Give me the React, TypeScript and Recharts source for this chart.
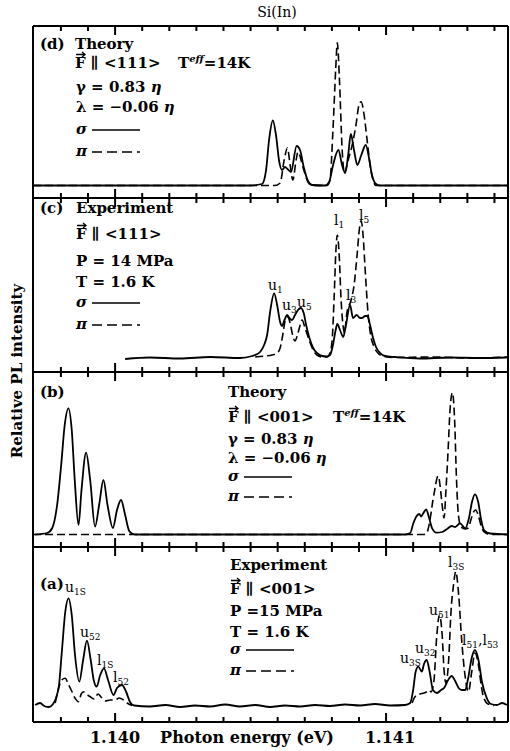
import React from 'react';
import { LineChart, Line, XAxis, YAxis } from 'recharts';

// photon energy axis (eV)
const E_MIN = 1.139697;
const E_MAX = 1.14145;
const TICKS = [
  1.1398, 1.1399, 1.14, 1.1401, 1.1402, 1.1403, 1.1404, 1.1405, 1.1406,
  1.1407, 1.1408, 1.1409, 1.141, 1.1411, 1.1412, 1.1413, 1.1414,
];
const MAJOR_TICKS = [1.14, 1.141];

// (d) theory, F || <111>
const dSigmaE = [1.139697, 1.140498, 1.140542, 1.140557, 1.140568, 1.140582, 1.140594, 1.140605, 1.140616, 1.140627, 1.140638, 1.140649, 1.14067, 1.140683, 1.140697, 1.140712, 1.140727, 1.140775, 1.14079, 1.140804, 1.140824, 1.140838, 1.140849, 1.14086, 1.14087, 1.140882, 1.140894, 1.140908, 1.140925, 1.140937, 1.140948, 1.140963, 1.140978, 1.14145];
const dSigmaI = [0, 0, 1.5, 15, 45, 65, 50, 25, 15.5, 18.5, 16, 13.5, 39.5, 35, 17.5, 4.5, 0.5, 0, 3.5, 20, 35.5, 20, 12.5, 30, 51.5, 35, 20.5, 30, 40.5, 27.5, 10.5, 1.5, 0, 0];
const dPiE = [1.139697, 1.14059, 1.140609, 1.140624, 1.140636, 1.140646, 1.140656, 1.140668, 1.140675, 1.140694, 1.140712, 1.140727, 1.140782, 1.140793, 1.140804, 1.140814, 1.14082, 1.140828, 1.140838, 1.140846, 1.14086, 1.140875, 1.140889, 1.1409, 1.140908, 1.140919, 1.14093, 1.140941, 1.140952, 1.140963, 1.14145];
const dPiI = [0, 0, 2.5, 25.5, 37.5, 20.5, 5.5, 25.5, 33.5, 17.5, 3.5, 0, 0, 5.5, 55.5, 115.5, 142.8, 105.5, 35.5, 12.5, 25.5, 40.5, 60.5, 80.5, 83.8, 70.5, 45.5, 20.5, 5.5, 0, 0];

// (c) experiment, F || <111>
const cSigmaE = [1.140037, 1.140129, 1.14024, 1.140351, 1.140461, 1.140506, 1.140517, 1.140535, 1.14055, 1.140561, 1.140572, 1.140587, 1.140598, 1.140609, 1.140616, 1.140625, 1.140635, 1.140646, 1.140653, 1.140664, 1.140675, 1.140685, 1.140696, 1.140705, 1.140716, 1.140731, 1.140745, 1.140764, 1.140782, 1.140793, 1.140804, 1.140814, 1.14082, 1.14083, 1.140842, 1.140852, 1.140867, 1.140878, 1.140891, 1.140904, 1.140911, 1.140923, 1.140931, 1.140941, 1.140952, 1.140963, 1.140978, 1.140996, 1.141033, 1.141125, 1.141236, 1.141347, 1.141446];
const cSigmaI = [-1, 0.5, -0.5, 1, 0, 2, 3, 6, 13, 23, 46, 64.7, 53, 36, 32, 38, 43, 39, 38, 43, 48, 50, 45, 33, 21, 10, 5, 2, 1.5, 3, 13, 28, 34, 28, 21, 33, 53, 40, 43, 40, 40, 42, 42, 33, 20, 11, 5, 2, 1, -0.5, 0.5, 0, 0.5];
const cPiE = [1.140517, 1.140554, 1.140579, 1.140598, 1.140609, 1.14062, 1.140628, 1.140636, 1.140646, 1.140655, 1.140664, 1.140673, 1.140683, 1.14069, 1.140701, 1.140716, 1.140731, 1.140745, 1.140764, 1.140782, 1.140793, 1.140801, 1.140808, 1.140815, 1.14082, 1.140827, 1.140834, 1.140841, 1.140846, 1.140856, 1.140871, 1.140882, 1.140893, 1.140902, 1.140908, 1.140915, 1.140924, 1.140934, 1.140943, 1.140956, 1.14097, 1.140989, 1.141033, 1.141162, 1.14131, 1.141446];
const cPiI = [1, 2, 3, 5, 10, 25, 38, 41.3, 35, 23, 17, 23, 33, 38, 30, 18, 8, 3, 1, 1, 5, 18, 58, 108, 123, 103, 58, 33, 25, 46, 58, 73, 103, 130, 137.3, 123, 83, 43, 23, 11, 5, 2, 0.5, 1, 0, 1];

// (b) theory, F || <001>
const bSigmaE = [1.139705, 1.139749, 1.139768, 1.139786, 1.139801, 1.139814, 1.139828, 1.13984, 1.139851, 1.139865, 1.139876, 1.139893, 1.139908, 1.139926, 1.139941, 1.139957, 1.139972, 1.139992, 1.140007, 1.140022, 1.140037, 1.140052, 1.140066, 1.140077, 1.14107, 1.141089, 1.141101, 1.141113, 1.141123, 1.141129, 1.141138, 1.141148, 1.141159, 1.14117, 1.141187, 1.141207, 1.141225, 1.141242, 1.141255, 1.141273, 1.141292, 1.141306, 1.141317, 1.141328, 1.14134, 1.141351, 1.141362, 1.141384, 1.14145];
const bSigmaI = [0, 1.5, 6.5, 29.5, 69.5, 109.5, 126.2, 104.5, 54.5, 9.5, 44.5, 81.8, 54.5, 7.8, 29.5, 54.5, 29.5, 6.5, 24.5, 34.5, 19.5, 3.5, 0.5, 0, 0, 1.5, 11.5, 18.5, 20.5, 18, 21.5, 25.2, 16.5, 6.2, 1.8, 2.5, 5.5, 8.5, 7.5, 11.2, 6.2, 16.5, 32.5, 40.2, 32.5, 14.5, 4, 1, 0];
const bPiE = [1.139697, 1.14114, 1.141151, 1.141162, 1.141173, 1.141181, 1.141188, 1.141193, 1.141199, 1.141207, 1.141214, 1.141221, 1.141229, 1.141236, 1.141245, 1.141253, 1.14126, 1.141267, 1.141277, 1.141292, 1.141303, 1.141314, 1.141321, 1.14133, 1.14134, 1.141351, 1.141362, 1.141384, 1.14145];
const bPiI = [0, 0, 2, 14.5, 34.5, 46.5, 56.5, 58.5, 49.5, 29.5, 16.5, 44.5, 84.5, 124.5, 141.8, 114.5, 54.5, 19.5, 7.5, 5.5, 6.5, 15.5, 21.5, 24.5, 19.5, 8.5, 2.5, 0, 0];

// (a) experiment, F || <001>
const aSigmaE = [1.139705, 1.139723, 1.139742, 1.139756, 1.139771, 1.139782, 1.139793, 1.139804, 1.139816, 1.139828, 1.13984, 1.139852, 1.139868, 1.139882, 1.139896, 1.13991, 1.139921, 1.139932, 1.139945, 1.139959, 1.139974, 1.139994, 1.140007, 1.140025, 1.140041, 1.140055, 1.14007, 1.140129, 1.140185, 1.14024, 1.140295, 1.140351, 1.140406, 1.140461, 1.140517, 1.140572, 1.140627, 1.140683, 1.140738, 1.140793, 1.140849, 1.140904, 1.140959, 1.141015, 1.14107, 1.141089, 1.1411, 1.141109, 1.141119, 1.141132, 1.14114, 1.14115, 1.141161, 1.141173, 1.141188, 1.141203, 1.141214, 1.141229, 1.141242, 1.141255, 1.141268, 1.141279, 1.141292, 1.141303, 1.141316, 1.141328, 1.141341, 1.141354, 1.141372, 1.141387, 1.141409, 1.141428, 1.141446];
const aSigmaI = [0.5, 2.5, -1, -1.5, 1.5, 7.5, 20.5, 55.5, 93.5, 107.2, 90.5, 50.5, 23.8, 45.5, 64.8, 45.5, 25.5, 18.8, 30.5, 37.2, 25.5, 10.5, 17.5, 20.5, 13.5, 3.5, 0, -1, 0.5, -1.5, 0, -1, 1, -1, 0.5, -1.5, 0, -1, 0.5, -0.5, 1, 0, 1.5, 0, 0.5, 2.5, 15.5, 33.5, 38.8, 33.8, 41.5, 45.5, 33.5, 15.5, 12.5, 15.5, 17.5, 25.5, 29.5, 24.5, 17.5, 15.5, 15.5, 27.5, 47.5, 55.5, 45.5, 23.5, 7.2, 1.5, 0.5, 2.5, 0.5];
const aPiE = [1.139779, 1.13979, 1.139803, 1.139816, 1.139827, 1.139838, 1.139852, 1.139865, 1.139875, 1.139883, 1.139893, 1.139908, 1.139923, 1.139937, 1.139948, 1.139963, 1.139982, 1.14, 1.140015, 1.140031, 1.140044, 1.140063, 1.1405, 1.141096, 1.141107, 1.141125, 1.14114, 1.14115, 1.141159, 1.141166, 1.141177, 1.141186, 1.141197, 1.141207, 1.141214, 1.141221, 1.141231, 1.14124, 1.141249, 1.141257, 1.141268, 1.141279, 1.141292, 1.141304, 1.141316, 1.141328, 1.141341, 1.141351, 1.141359, 1.141376, 1.141399];
const aPiI = [2.5, 15.5, 25.5, 27.2, 21.5, 15.5, 7.5, 3.8, 11.5, 13.8, 11.5, 8.8, 6.5, 11.5, 8.5, 4.5, 5.5, 5.5, 7.5, 5.5, 2.5, 0, null, 2.5, 8.8, 11.5, 12.5, 13.8, 15.5, 13.5, 25.5, 65.5, 90.5, 70.5, 35.5, 22.2, 45.5, 95.5, 120.5, 133.8, 110.5, 65.5, 28.8, 13.8, 33.5, 52.5, 40.5, 20.5, 8.8, 1.5, 0];

const FONT = "'DejaVu Serif', 'Liberation Serif', serif";

const toRows = (e: number[], v: (number | null)[]) => e.map((x, i) => ({ e: x, v: v[i] }));

// inward ticks, longer at the labelled energies
const tickRenderer = (side: 'top' | 'bottom') => (p: any) => {
  const val = p.payload.value;
  const major = MAJOR_TICKS.some((m) => Math.abs(m - val) < 1e-7);
  const len = major ? 9 : 5;
  const y2 = side === 'bottom' ? p.y - len : p.y + len;
  return <line x1={p.x} x2={p.x} y1={p.y} y2={y2} stroke="#000" strokeWidth={2} />;
};

const frame = { stroke: '#000', strokeWidth: 2 };

interface Series {
  e: number[];
  v: (number | null)[];
  dashed?: boolean;
}

function Panel({ top, height, domain, series }: { top: number; height: number; domain: [number, number]; series: Series[] }) {
  return (
    <div style={{ position: 'absolute', left: 32, top: top - 1 }}>
      <LineChart width={477} height={height + 2} margin={{ top: 0, right: 0, bottom: 0, left: 0 }}>
        <XAxis xAxisId="b" type="number" dataKey="e" domain={[E_MIN, E_MAX]} allowDataOverflow ticks={TICKS} interval={0}
          height={1} tickSize={0} tickMargin={0} tickLine={false} axisLine={frame} tick={tickRenderer('bottom')} />
        <XAxis xAxisId="t" orientation="top" type="number" dataKey="e" domain={[E_MIN, E_MAX]} allowDataOverflow ticks={TICKS} interval={0}
          height={1} tickSize={0} tickMargin={0} tickLine={false} axisLine={frame} tick={tickRenderer('top')} />
        <YAxis yAxisId="l" type="number" domain={domain} allowDataOverflow width={1} tick={false} tickLine={false} axisLine={frame} />
        <YAxis yAxisId="r" orientation="right" type="number" domain={domain} allowDataOverflow width={1} tick={false} tickLine={false} axisLine={frame} />
        {series.map((s, i) => (
          <Line key={i} xAxisId="b" yAxisId="l" data={toRows(s.e, s.v)} dataKey="v" type="monotone" stroke="#000"
            strokeWidth={s.dashed ? 1.6 : 1.8} strokeDasharray={s.dashed ? '8 4' : undefined}
            dot={false} activeDot={false} connectNulls={false} isAnimationActive={false} />
        ))}
      </LineChart>
    </div>
  );
}

const Txt = (p: any) => <text fontFamily={FONT} fontSize={15} fontWeight="bold" fill="#000" {...p} />;

function FRow({ x, y, dir, teffX }: { x: number; y: number; dir: string; teffX?: number }) {
  return (
    <g>
      <path d={`M${x + 1} ${y - 13.5} h9 m-3 -2.5 l3 2.5 l-3 2.5`} stroke="#000" fill="none" strokeWidth={1.3} />
      <Txt x={x} y={y}>{`F ∥ <${dir}>`}</Txt>
      {teffX !== undefined && (
        <Txt x={teffX} y={y}>
          T<tspan fontSize={10} fontStyle="italic" dy={-6}>eff</tspan>
          <tspan dy={6}>=14K</tspan>
        </Txt>
      )}
    </g>
  );
}

function Legend2({ x, ys, yp }: { x: number; ys: number; yp: number }) {
  return (
    <g>
      <Txt x={x} y={ys} fontStyle="italic">σ</Txt>
      <line x1={x + 16} x2={x + 64} y1={ys - 4} y2={ys - 4} stroke="#000" strokeWidth={1.6} />
      <Txt x={x} y={yp} fontStyle="italic">π</Txt>
      <line x1={x + 16} x2={x + 64} y1={yp - 4} y2={yp - 4} stroke="#000" strokeWidth={1.6} strokeDasharray="10 5" />
    </g>
  );
}

function Pk({ x, y, m, s }: { x: number; y: number; m: string; s: string }) {
  return (
    <text x={x} y={y} fontFamily={FONT} fontSize={14} fill="#000">
      {m}
      <tspan fontSize={9} dy={3}>{s}</tspan>
    </text>
  );
}

export default function App() {
  return (
    <div style={{ position: 'absolute', left: 0, top: 0, width: 510, height: 751, background: '#fff' }}>
      <Panel top={26} height={172} domain={[-12.5, 159.5]}
        series={[{ e: dSigmaE, v: dSigmaI }, { e: dPiE, v: dPiI, dashed: true }]} />
      <Panel top={198} height={174} domain={[-14, 160]}
        series={[{ e: cSigmaE, v: cSigmaI }, { e: cPiE, v: cPiI, dashed: true }]} />
      <Panel top={372} height={175} domain={[-12.5, 162.5]}
        series={[{ e: bSigmaE, v: bSigmaI }, { e: bPiE, v: bPiI, dashed: true }]} />
      <Panel top={547} height={175} domain={[-16.5, 158.5]}
        series={[{ e: aSigmaE, v: aSigmaI }, { e: aPiE, v: aPiI, dashed: true }]} />

      <svg width={510} height={751} style={{ position: 'absolute', left: 0, top: 0, pointerEvents: 'none' }}>
        <Txt x={277} y={17} fontSize={14} fontWeight="normal" textAnchor="middle">Si(In)</Txt>
        <Txt x={22} y={371} textAnchor="middle" transform="rotate(-90 22 371)">Relative PL intensity</Txt>

        {/* (d) */}
        <Txt x={40} y={49}>(d)</Txt>
        <Txt x={75} y={49}>Theory</Txt>
        <FRow x={75} y={68} dir="111" teffX={178} />
        <Txt x={76} y={92}>γ = 0.83 <tspan fontStyle="italic">η</tspan></Txt>
        <Txt x={76} y={112}>λ = −0.06 <tspan fontStyle="italic">η</tspan></Txt>
        <Legend2 x={76} ys={134} yp={156} />

        {/* (c) */}
        <Txt x={40} y={213}>(c)</Txt>
        <Txt x={76} y={213}>Experiment</Txt>
        <FRow x={76} y={239} dir="111" />
        <Txt x={76} y={266}>P = 14 MPa</Txt>
        <Txt x={76} y={287}>T = 1.6 K</Txt>
        <Legend2 x={76} ys={307} yp={329} />
        <Pk x={268} y={290} m="u" s="1" />
        <Pk x={282} y={310} m="u" s="3" />
        <Pk x={297} y={307} m="u" s="5" />
        <Pk x={334} y={225} m="l" s="1" />
        <Pk x={346} y={300} m="l" s="3" />
        <Pk x={359} y={220} m="l" s="5" />

        {/* (b) */}
        <Txt x={40} y={397}>(b)</Txt>
        <Txt x={228} y={397}>Theory</Txt>
        <FRow x={228} y={422} dir="001" teffX={333} />
        <Txt x={228} y={444}>γ = 0.83 <tspan fontStyle="italic">η</tspan></Txt>
        <Txt x={228} y={463}>λ = −0.06 <tspan fontStyle="italic">η</tspan></Txt>
        <Legend2 x={228} ys={481} yp={501} />

        {/* (a) */}
        <Txt x={40} y={589}>(a)</Txt>
        <Txt x={230} y={570}>Experiment</Txt>
        <FRow x={230} y={594} dir="001" />
        <Txt x={230} y={616}>P =15 MPa</Txt>
        <Txt x={230} y={637}>T = 1.6 K</Txt>
        <Legend2 x={230} ys={654} yp={675} />
        <Pk x={65} y={592} m="u" s="1S" />
        <Pk x={80} y={637} m="u" s="52" />
        <Pk x={97} y={665} m="l" s="1S" />
        <Pk x={113} y={682} m="l" s="52" />
        <Pk x={400} y={663} m="u" s="3S" />
        <Pk x={415} y={653} m="u" s="32" />
        <Pk x={429} y={615} m="u" s="51" />
        <Pk x={448} y={567} m="l" s="3S" />
        <text x={462} y={645} fontFamily={FONT} fontSize={14} fill="#000">
          l<tspan fontSize={9} dy={3}>51</tspan><tspan dy={-3}>,l</tspan><tspan fontSize={9} dy={3}>53</tspan>
        </text>

        <Txt x={115} y={743} fontSize={16} textAnchor="middle">1.140</Txt>
        <Txt x={247} y={743} fontSize={16} textAnchor="middle">Photon energy (eV)</Txt>
        <Txt x={390} y={743} fontSize={16} textAnchor="middle">1.141</Txt>
      </svg>
    </div>
  );
}
